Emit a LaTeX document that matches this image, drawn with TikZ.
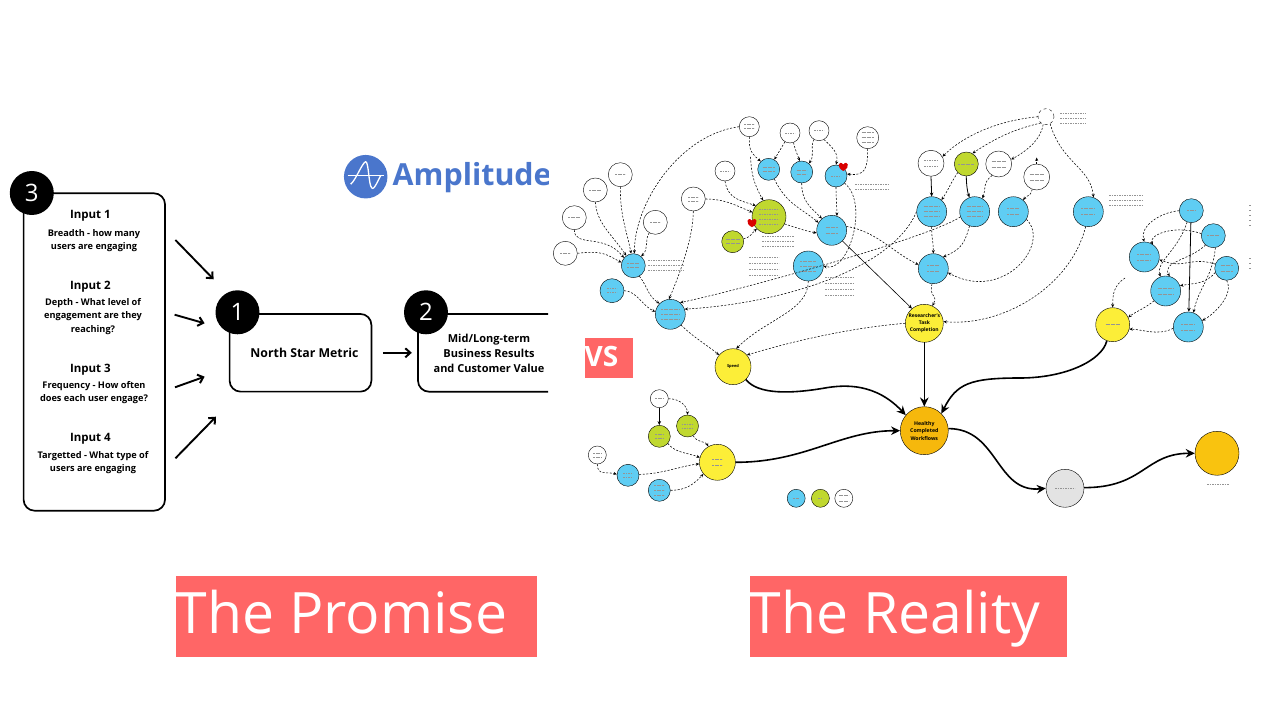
\documentclass[tikz,border=0pt]{standalone}
\usepackage{fontspec}
\setmainfont{Open Sans}
\usetikzlibrary{arrows.meta}
\definecolor{redlab}{HTML}{FF6666}
\definecolor{ampblue}{HTML}{4A76CC}
\definecolor{nblue}{HTML}{5FCDF3}
\definecolor{ngreen}{HTML}{C0D82F}
\definecolor{nyellow}{HTML}{FCEE38}
\definecolor{ngold}{HTML}{F9C30F}
\definecolor{ndark}{HTML}{F6B80C}
\definecolor{ngrey}{HTML}{E3E3E3}
\tikzset{
 box/.style={draw=black,line width=1.7pt,rounded corners=11pt},
 badge/.style={circle,fill=black,text=white,minimum size=44pt,inner sep=0pt,font=\fontsize{24}{24}\selectfont},
 title/.style={font=\fontsize{11.5}{12}\selectfont\bfseries,inner sep=0pt},
 sub/.style={font=\fontsize{9.2}{13.6}\selectfont\bfseries,align=center,inner sep=0pt},
 main/.style={font=\fontsize{11}{15.3}\selectfont\bfseries,align=center,inner sep=0pt},
 bigarrow/.style={line width=1.9pt,-{Straight Barb[length=5pt,width=9pt,line width=2pt]}},
 banner/.style={fill=redlab,text=white,inner sep=0pt,anchor=north west},
 bannertext/.style={text=white,anchor=base west,inner sep=0pt,font=\fontsize{57.1}{57.1}\selectfont},
 circ/.style={circle,draw=black,line width=0.4pt,inner sep=0pt},
 wh/.style={circ,fill=white},
 bl/.style={circ,fill=nblue},
 gr/.style={circ,fill=ngreen},
 ye/.style={circ,fill=nyellow},
 go/.style={circ,fill=ngold},
 dl/.style={line width=0.55pt,dash pattern=on 2pt off 1.6pt,-{Stealth[length=3.5pt,width=3pt]}},
 sl/.style={line width=0.8pt,-{Stealth[length=4pt,width=3.5pt]}},
 tl/.style={line width=1.6pt,-{Stealth[length=9pt,width=8.5pt]}},
 smudgeline/.style={line width=0.8pt,black!42,dash pattern=on 1.8pt off 0.7pt},
 heartshape/.style={fill=red!85!black,draw=none},
}
\newcommand{\lnk}[5][dl]{\draw[#1] (#2) .. controls +(#3) and +(#4) .. (#5);}
\newcommand{\smg}[3]{\foreach \o in {#3} \draw[smudgeline] ([xshift=-#2pt,yshift=\o pt]#1.center) -- ([xshift=#2pt,yshift=\o pt]#1.center);}
\newcommand{\hrt}[1]{\draw[heartshape] ([shift={(0,4.5)}]#1) .. controls +(-8,-4) and +(-4,-5) .. ([shift={(0,-2)}]#1) .. controls +(4,-5) and +(8,-4) .. ([shift={(0,4.5)}]#1) -- cycle;}
\begin{document}
\begin{tikzpicture}[x=1pt,y=-1pt]
\useasboundingbox (0,0) rectangle (1262,708);
% ---------- left diagram
\draw[box] (23.6,193.3) rectangle (165,510.7);
\node[badge] (b3) at (31.8,193) {3};
\node[title] (t1) at (90.4,216) {Input 1};
\node[sub] (s1) at (94,240.5) {Breadth - how many\\users are engaging};
\node[title] (t2) at (90.4,286.5) {Input 2};
\node[sub] (s2) at (93,316.5) {Depth - What level of\\engagement are they\\reaching?};
\node[title] (t3) at (90.4,369.5) {Input 3};
\node[sub] (s3) at (94,392.5) {Frequency - How often\\does each user engage?};
\node[title] (t4) at (90.4,438.5) {Input 4};
\node[sub] (s4) at (93,462.5) {Targetted - What type of\\users are engaging};
\node[draw=black,line width=1.7pt,rounded corners=11pt,minimum width=141.8pt,minimum height=77.7pt,inner sep=0pt] (nsm) at (300.5,352.8) {};
\node[badge] (b1) at (237.5,312.3) {1};
\node[main,font=\fontsize{12.3}{15}\selectfont\bfseries] (nsmt) at (304.5,352.5) {North Star Metric};
\coordinate (b2tl) at (548,314);
\coordinate (b2bl) at (548,391.7);
\draw[box] (b2tl) -- (418,314) -- (418,391.7) -- (b2bl);
\node[badge] (b2) at (426,312.3) {2};
\node[main] (b2t) at (489,353.5) {Mid/Long-term\\Business Results\\and Customer Value};
\coordinate (a1s) at (175.4,240); \coordinate (a1e) at (213.6,279.3);
\coordinate (a2s) at (174.6,314.7); \coordinate (a2e) at (204.6,323.3);
\coordinate (a3s) at (175,387.3); \coordinate (a3e) at (204.6,376.7);
\coordinate (a4s) at (175.4,458.3); \coordinate (a4e) at (216,416.7);
\coordinate (a5s) at (382.9,352.8); \coordinate (a5e) at (411.8,352.8);
\draw[bigarrow] (a1s) -- (a1e);
\draw[bigarrow] (a2s) -- (a2e);
\draw[bigarrow] (a3s) -- (a3e);
\draw[bigarrow] (a4s) -- (a4e);
\draw[bigarrow] (a5s) -- (a5e);
% logo
\node[circle,fill=ampblue,minimum size=43.5pt,inner sep=0pt] (logo) at (365.7,176.7) {};
\draw[white,line width=1.3pt,line join=round] ([shift={(-15,7.5)}]logo.center) coordinate (lga)
  .. controls +(5,-4) and +(-3.5,1) .. ([shift={(0,-15)}]logo.center) coordinate (lgb)
  .. controls +(3,0) and +(-3,-2) .. ([shift={(6,11)}]logo.center) coordinate (lgc)
  .. controls +(2,4) and +(-2,3) .. ([shift={(15,-1)}]logo.center);
\draw[white,line width=1.2pt] ([shift={(-18,-1)}]logo.center) -- ([shift={(18,-1)}]logo.center);
\begin{scope}
\clip (390,150) rectangle (548,205);
\node[text=ampblue,font=\fontsize{30.4}{30.4}\selectfont\bfseries,anchor=base west,inner sep=0pt] (ampl) at (392.5,186) {Amplitude};
\end{scope}
% banners
\node[banner,minimum width=361pt,minimum height=81pt] (bp) at (176,576) {};
\node[bannertext] (bpt) at (175.5,633) {The Promise};
\node[banner,minimum width=316.5pt,minimum height=81pt] (br) at (750,576) {};
\node[bannertext] (brt) at (749.5,633) {The Reality};
\node[banner,minimum width=48pt,minimum height=40pt] (vsb) at (585,338) {};
\node[text=white,font=\fontsize{28}{28}\selectfont\bfseries,anchor=base west,inner sep=0pt] (vst) at (584.5,367) {VS};
% ---------- right diagram nodes
\foreach \n/\x/\y/\r in {w749/749.3/126.7/10,w790/790/133/10,w819/819/130.7/10,w867/867.7/137.7/11,w725/725/171/10,w620/620.3/174.7/12,w595/595.3/190/12,w574/574.3/217.7/12,w655/655.3/222.3/12,w565/565.3/253.3/12,w693/693.3/199/12,w931/931/163.3/13,w998/998.7/164/13,w1037/1036.7/177/13,w659/659.3/398.7/9,w597/597.3/455/9,w844/843.8/498.3/9}
  \node[wh,minimum size=2*\r] (\n) at (\x,\y) {};
\foreach \n/\x/\y/\r in {b768/768.7/169.3/11,b801/801.7/172/11,b836/836/176/11,b831/831.7/230.3/15,b808/808.3/266/15,b633/633.3/265.7/12,b612/612/290.7/12,b670/670.3/314.3/15,b931/931.7/211.7/15,b974/974.7/211.7/15,b1013/1013.3/211.7/15,b1088/1088.3/211.7/15,b933/933.3/268.7/15,b1191/1191.3/210.7/12,b1213/1213.3/235.7/12,b1227/1226.7/268.3/12,b1144/1144.3/257/15,b1166/1165.7/291/15,b1188/1188.3/327/15,b628/628/475.3/11,b659/659.3/490.3/11,b796/796.2/498.3/9}
  \node[bl,minimum size=2*\r] (\n) at (\x,\y) {};
\foreach \n/\x/\y/\r in {g769/769/216.7/17,g733/732.7/241.7/11,g966/966.3/164/12,g687/687.5/426/11,g659/659.3/436.3/11,g820/820.4/498.3/9}
  \node[gr,minimum size=2*\r] (\n) at (\x,\y) {};
\node[wh,dashed,minimum size=16pt] (w1046) at (1046,116.7) {};
\node[ye,minimum size=36pt,font=\fontsize{4}{4}\selectfont\bfseries] (speed) at (733,366.7) {Speed};
\node[ye,minimum size=38pt,align=center,font=\fontsize{5}{7}\selectfont\bfseries] (ytc) at (924.3,323.3) {Researcher's\\Task\\Completion};
\node[ye,minimum size=34pt] (y1112) at (1112.7,324.7) {};
\node[ye,minimum size=36pt] (y717) at (717.4,462.3) {};
\node[circ,fill=ndark,minimum size=48pt,align=center,font=\fontsize{5.2}{7.6}\selectfont\bfseries] (hw) at (924.3,430.7) {Healthy\\Completed\\Workflows};
\node[circ,fill=ngrey,minimum size=38pt] (grey) at (1065,488.3) {};
\node[go,minimum size=44pt] (gold) at (1217,453.3) {};
\coordinate (h1) at (843.3,166.5);
\coordinate (h2) at (752,222.7);
\hrt{h1}\hrt{h2}
% ---------- connectors, left group
\lnk{w565.0}{25,-3}{-15,-8}{b633.165}
\lnk{w574.270}{0,18}{-20,-25}{b633.140}
\lnk{w595.270}{2,22}{-15,-22}{b633.125}
\lnk{w620.270}{0,30}{-5,-25}{b633.100}
\lnk{w749.180}{-60,8}{0,-50}{b633.85}
\lnk{w655.240}{-5,8}{8,-8}{b633.50}
\lnk{b612.0}{12,0}{-12,-5}{b670.170}
\lnk{b633.300}{8,10}{-12,-8}{b670.135}
\lnk{w693.270}{0,25}{12,-28}{b670.95}
\lnk{w693.0}{20,0}{-15,-6}{g769.165}
\lnk{w725.270}{3,18}{-15,-5}{g769.140}
\lnk{w749.270}{0,10}{-12,-10}{b768.135}
\coordinate (c749) at (750.5,157);
\draw[dl] (c749) .. controls +(1,20) and +(-8,-15) .. (g769.110);
\lnk{w790.240}{-4,8}{6,-10}{b768.60}
\lnk{w790.290}{2,8}{-3,-8}{b801.100}
\lnk{w819.240}{-4,8}{6,-8}{b801.50}
\lnk{w819.300}{8,8}{3,-12}{b836.90}
\lnk{w867.270}{0,20}{18,2}{b836.10}
\lnk{b768.300}{12,25}{-18,-15}{b831.150}
\lnk{b801.270}{0,18}{-12,-12}{b831.130}
\lnk{b836.270}{0,12}{0,-10}{b831.70}
\lnk{b836.320}{25,20}{25,8}{b808.0}
\lnk{g769.335}{10,3}{-12,-2}{b831.190}
\lnk{g733.15}{8,-2}{-6,5}{g769.225}
\draw[sl,line width=0.6pt] (b831.315) -- (ytc.130);
\lnk{b831.15}{30,5}{-25,-12}{b933.165}
\lnk{b808.270}{0,30}{30,-30}{speed.80}
\lnk{b670.315}{12,12}{-12,-10}{speed.140}
\lnk{ytc.180}{-60,5}{40,-12}{speed.40}
\lnk{b931.180}{-25,60}{90,-5}{b670.20}
\lnk{b974.200}{-30,20}{70,-15}{b670.50}
% right group
\lnk{w1046.180}{-50,5}{15,-15}{w931.30}
\lnk{w1046.230}{-20,5}{30,-20}{g966.60}
\lnk{w1046.250}{-2,15}{15,-8}{w998.20}
\lnk{w1046.300}{12,40}{-3,-30}{b1088.70}
\draw[sl] (w931.270) -- (b931.90);
\lnk{g966.225}{-8,12}{8,-12}{b931.50}
\lnk[sl]{g966.270}{0,8}{-2,-5}{b974.110}
\lnk{w998.240}{-10,8}{4,-10}{b974.60}
\lnk{w1037.250}{-2,8}{5,-6}{b1013.50}
\coordinate (t1037) at (1036.7,157.5);
\draw[dl] (w1037.90) -- (t1037);
\lnk{b931.270}{0,15}{0,-15}{b933.90}
\lnk{b974.250}{-5,18}{18,-8}{b933.50}
\lnk{b1013.330}{25,25}{55,30}{b933.345}
\lnk{b933.265}{-3,15}{6,-12}{ytc.65}
\lnk{b1088.260}{-15,60}{60,5}{ytc.5}
\lnk{b1191.180}{-20,2}{-5,-15}{b1144.90}
\lnk{b1213.170}{-30,-10}{-5,-8}{b1144.55}
\draw[sl] (b1191.268) -- (b1188.88);
\lnk{b1191.250}{-10,30}{-5,-15}{b1166.110}
\lnk{b1213.230}{-15,15}{-8,-15}{b1166.75}
\lnk{b1227.200}{-10,12}{15,-3}{b1166.20}
\lnk{b1227.270}{8,15}{10,-5}{b1188.25}
\lnk{b1213.280}{-3,30}{5,-25}{b1188.70}
\lnk{b1227.160}{-25,-8}{25,10}{b1144.350}
\lnk{b1166.220}{-8,7}{6,-5}{y1112.25}
\lnk{b1188.185}{-15,8}{12,0}{y1112.345}
\coordinate (t1112) at (1125,278);
\draw[dl] (t1112) .. controls +(-12,8) and +(0,-12) .. (y1112.90);
% lower group
\draw[sl] (w659.270) -- (g659.90);
\lnk{w659.0}{12,0}{0,-8}{g687.90}
\lnk{g687.300}{5,8}{-3,-6}{y717.120}
\lnk{g659.320}{8,10}{-12,-5}{y717.165}
\lnk{w597.270}{0,12}{-10,-3}{b628.175}
\lnk{b628.5}{22,0}{-18,2}{y717.185}
\lnk{b659.0}{18,0}{-8,8}{y717.220}
% thick
\coordinate (ms) at (825,388);
\coordinate (my) at (1020,378);
\draw[tl] (speed.-45) .. controls +(12,15) and +(-35,6) .. (ms) .. controls +(20,-3.5) and +(-30,-32) .. (hw.140);
\draw[tl] (y1112.250) .. controls +(-5,20) and +(45,0) .. (my) .. controls +(-50,0) and +(15,-30) .. (hw.45);
\draw[tl] (ytc.270) -- (hw.90);
\lnk[tl]{y717.0}{70,0}{-60,0}{hw.180}
\lnk[tl]{hw.5}{50,0}{-50,5}{grey.180}
\lnk[tl]{grey.2}{60,0}{-50,0}{gold.180}
% unreadable small print shown as blurred strokes
\smg{w749}{5}{2,-2}\smg{w790}{5}{0}\smg{w819}{5}{0}\smg{w867}{6}{5,0,-5}
\smg{w725}{5}{0}\smg{w620}{5}{0}\smg{w595}{6}{0}\smg{w574}{6}{0}\smg{w655}{5}{0}
\smg{w565}{5}{0}\smg{w693}{5}{2,-2}\smg{w931}{7}{3,-3}\smg{w998}{7}{3,-3}
\smg{w1037}{7}{3,-3}\smg{w659}{4}{0}\smg{w597}{4}{2,-2}\smg{w844}{5}{3,-3}
\smg{b768}{6}{2,-2}\smg{b801}{5}{2,-2}\smg{b836}{5}{0}\smg{b831}{6}{3,-3}
\smg{b808}{8}{5,0,-5}\smg{b633}{6}{2,-2}\smg{b612}{5}{2,-2}\smg{b670}{9}{5,0,-5}
\smg{b931}{8}{5,0,-5}\smg{b974}{8}{5,0,-5}\smg{b1013}{6}{3,-3}\smg{b1088}{7}{3,-3}
\smg{b933}{6}{3,-3}\smg{b1191}{4}{0}\smg{b1213}{6}{0}\smg{b1227}{6}{3,-3}
\smg{b1144}{7}{3,-3}\smg{b1166}{8}{3,-3}\smg{b1188}{7}{3,-3}
\smg{b628}{5}{2,-2}\smg{b659}{5}{5,0,-5}\smg{b796}{3}{0}\smg{g820}{2}{0}
\smg{g769}{10}{7,2,-3,-8}\smg{g733}{7}{2,-2}\smg{g966}{8}{0}\smg{g687}{6}{2,-2}\smg{g659}{4}{2,-2}
\smg{y1112}{7}{0}\smg{y717}{5}{3,-3}\smg{grey}{10}{0}
\coordinate (p1) at (666,266); \smg{p1}{18}{6,1,-4}
\coordinate (p2) at (778,241); \smg{p2}{16}{5,0,-5}
\coordinate (p3) at (764,266); \smg{p3}{15}{9,3,-3,-9}
\coordinate (p4) at (839,286); \smg{p4}{14}{9,3,-3,-9}
\coordinate (p5) at (872,187); \smg{p5}{17}{3,-2}
\coordinate (p6) at (1073,118); \smg{p6}{13}{5,0,-5}
\coordinate (p7) at (1126,200); \smg{p7}{17}{5,0,-5}
\coordinate (p8) at (1218,484); \smg{p8}{11}{0}
\coordinate (p9) at (1250,215); \smg{p9}{1}{10,5,0,-5,-10}
\coordinate (p10) at (1250,263); \smg{p10}{1}{5,0,-5}
\end{tikzpicture}
\end{document}
